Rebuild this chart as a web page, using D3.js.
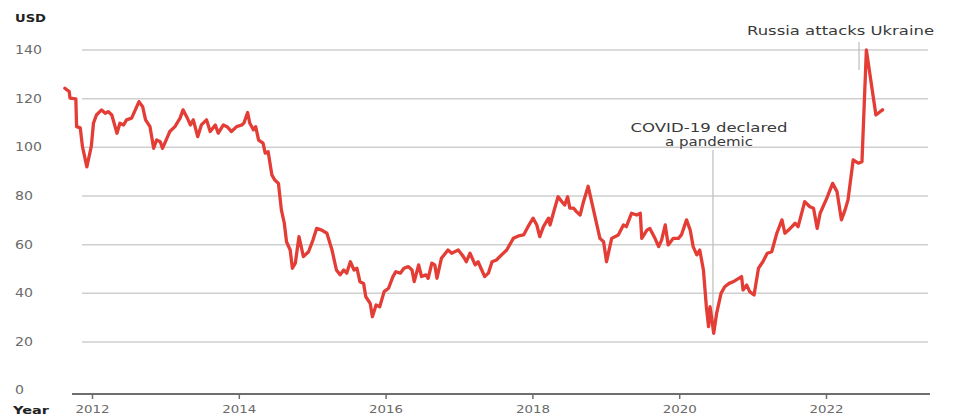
<!DOCTYPE html>
<html>
<head>
<meta charset="utf-8">
<script src="https://cdn.jsdelivr.net/npm/d3@7"></script>
<style>
  html, body { margin: 0; padding: 0; background: #fff; }
  svg { display: block; font-family: "DejaVu Sans", sans-serif; }
</style>
</head>
<body>
<svg id="chart" width="979" height="417"></svg>
<script>
// ---- data ----
const years = [
  2011.63,2011.69,2011.70,2011.78,2011.79,2011.84,2011.87,2011.93,2011.95,2011.99,
  2012.02,2012.06,2012.13,2012.18,2012.22,2012.27,2012.34,2012.38,2012.43,2012.47,
  2012.54,2012.64,2012.69,2012.73,2012.79,2012.84,2012.88,2012.93,2012.96,2013.02,
  2013.06,2013.13,2013.20,2013.24,2013.29,2013.34,2013.38,2013.44,2013.49,2013.56,
  2013.61,2013.68,2013.72,2013.79,2013.84,2013.90,2013.97,2014.04,2014.07,2014.12,
  2014.15,2014.20,2014.23,2014.27,2014.33,2014.36,2014.40,2014.45,2014.49,2014.54,
  2014.58,2014.62,2014.65,2014.70,2014.73,2014.77,2014.82,2014.88,2014.95,2015.01,
  2015.06,2015.13,2015.20,2015.27,2015.33,2015.38,2015.43,2015.47,2015.52,2015.57,
  2015.61,2015.65,2015.70,2015.73,2015.79,2015.82,2015.87,2015.92,2015.98,2016.04,
  2016.10,2016.14,2016.20,2016.25,2016.31,2016.36,2016.39,2016.45,2016.49,2016.55,
  2016.58,2016.63,2016.67,2016.70,2016.76,2016.85,2016.90,2016.99,2017.06,2017.10,
  2017.15,2017.22,2017.26,2017.31,2017.35,2017.40,2017.45,2017.51,2017.58,2017.65,
  2017.74,2017.81,2017.88,2017.94,2018.01,2018.06,2018.10,2018.15,2018.22,2018.24,
  2018.31,2018.35,2018.40,2018.44,2018.48,2018.51,2018.56,2018.60,2018.65,2018.69,
  2018.76,2018.92,2018.97,2019.01,2019.08,2019.17,2019.24,2019.28,2019.35,2019.42,
  2019.47,2019.49,2019.56,2019.60,2019.67,2019.72,2019.76,2019.81,2019.85,2019.92,
  2019.99,2020.03,2020.10,2020.15,2020.19,2020.24,2020.28,2020.33,2020.37,2020.40,
  2020.42,2020.44,2020.47,2020.51,2020.57,2020.62,2020.68,2020.75,2020.85,2020.87,
  2020.92,2020.96,2021.02,2021.08,2021.14,2021.20,2021.26,2021.33,2021.40,2021.44,
  2021.49,2021.58,2021.62,2021.71,2021.78,2021.83,2021.88,2021.92,2022.01,2022.09,
  2022.15,2022.21,2022.26,2022.30,2022.37,2022.44,2022.49,2022.55,2022.68,2022.74,
  2022.77
];
const prices = [
  124.3,122.9,120.2,119.9,108.5,108.0,100.3,92.0,94.8,100.3,
  109.9,113.3,115.4,114.0,114.7,113.3,105.8,109.9,109.2,111.3,
  112.0,118.8,116.7,111.3,108.5,99.6,103.0,102.3,99.6,103.7,
  106.5,108.5,112.0,115.4,112.6,109.2,111.3,104.4,109.2,111.3,
  106.5,109.2,105.8,109.2,108.5,106.5,108.5,109.2,110.0,114.3,
  109.9,107.2,108.5,103.0,101.7,97.6,98.2,88.7,86.6,85.2,
  74.3,68.8,61.2,57.8,50.3,52.4,63.3,55.1,57.1,61.9,
  66.7,66.0,64.7,57.8,49.6,47.6,49.6,48.3,53.0,49.6,
  50.3,44.8,44.1,38.6,35.9,30.4,35.2,34.5,40.7,42.1,
  46.9,48.9,48.3,50.3,51.0,49.6,44.8,51.7,46.9,47.6,
  46.2,52.4,51.7,46.2,54.4,57.8,56.5,57.8,55.1,53.0,
  56.5,51.7,53.0,49.6,46.9,48.3,53.0,53.7,55.8,57.8,
  62.6,63.6,64.0,67.4,70.9,68.1,63.3,67.4,70.9,68.1,
  75.6,79.7,77.7,76.3,79.7,75.0,75.0,73.6,72.2,77.0,
  84.0,62.6,61.2,53.0,62.6,64.0,68.1,67.4,72.9,72.2,
  72.9,62.6,66.0,66.7,62.6,59.2,61.9,68.1,59.9,62.6,
  62.6,64.0,70.2,66.0,59.2,55.8,57.8,49.6,34.5,26.3,
  34.5,30.4,23.6,31.8,40.0,42.7,44.1,45.0,46.9,41.4,
  43.4,40.7,39.3,50.3,53.0,56.5,57.1,64.7,70.2,64.7,
  66.0,68.8,67.4,77.7,75.6,75.0,66.7,72.9,79.0,85.2,
  81.8,70.2,74.3,78.4,94.8,93.5,94.1,140.0,113.3,114.7,
  115.4
];
const yTicks = [0, 20, 40, 60, 80, 100, 120, 140];
const xTicks = [2012, 2014, 2016, 2018, 2020, 2022];
const events = [
  { year: 2020.46, price: 23.6, lines: ["COVID-19 declared", "a pandemic"] },
  { year: 2022.45, price: 140, lines: ["Russia attacks Ukraine"] }
];
const yUnit = "USD";
const xUnit = "Year";

// ---- drawing ----
const svg = d3.select("#chart");
const x = d3.scaleLinear().domain([2012, 2022]).range([92, 826]);
const y = d3.scaleLinear().domain([0, 140]).range([390.7, 50]);

// wide geometric look: stretch DejaVu glyphs to the reference widths
const stretch = (sel, w) => sel.attr("textLength", w).attr("lengthAdjust", "spacingAndGlyphs");

// gridlines
svg.append("g").selectAll("line")
  .data(yTicks.filter(d => d > 0))
  .join("line")
  .attr("x1", 82).attr("x2", 928)
  .attr("y1", d => y(d)).attr("y2", d => y(d))
  .attr("stroke", "#cfcfcf").attr("stroke-width", 1.5);

// y tick labels
svg.append("g").selectAll("text")
  .data(yTicks)
  .join("text")
  .attr("x", 15)
  .attr("y", d => y(d) + (d === 0 ? -1 : 0))
  .attr("dy", "0.35em")
  .attr("font-size", 11.5)
  .attr("fill", "#6a6a6a")
  .text(d => d)
  .each(function(d) { stretch(d3.select(this), String(d).length * 9); });

stretch(svg.append("text")
  .attr("x", 15).attr("y", 18).attr("dy", "0.35em")
  .attr("font-size", 10).attr("font-weight", "bold")
  .attr("fill", "#222").text(yUnit), 31);

// x axis
const xAxis = d3.axisBottom(x).tickValues(xTicks).tickFormat(d3.format("d"))
  .tickSize(5).tickPadding(6);
const gx = svg.append("g").attr("transform", "translate(0,394)").call(xAxis);
gx.select(".domain").remove();
gx.insert("line", ":first-child")
  .attr("x1", 72).attr("x2", 930).attr("y1", 0).attr("y2", 0)
  .attr("stroke", "#6e6e6e").attr("stroke-width", 2);
gx.selectAll(".tick line").attr("stroke", "#6e6e6e").attr("stroke-width", 1.5);
gx.selectAll(".tick text")
  .attr("font-family", "DejaVu Sans, sans-serif")
  .attr("font-size", 11).attr("fill", "#6a6a6a")
  .each(function() { stretch(d3.select(this), 34); });

stretch(svg.append("text")
  .attr("x", 13).attr("y", 410).attr("dy", "0.35em")
  .attr("font-size", 10).attr("font-weight", "bold")
  .attr("fill", "#222").text(xUnit), 36);

// annotation lines
svg.append("line")
  .attr("x1", x(events[0].year)).attr("x2", x(events[0].year))
  .attr("y1", 150).attr("y2", y(events[0].price))
  .attr("stroke", "#bdbdbd").attr("stroke-width", 1.2);
svg.append("line")
  .attr("x1", x(events[1].year)).attr("x2", x(events[1].year))
  .attr("y1", 42).attr("y2", y(events[1].price) + 20)
  .attr("stroke", "#bdbdbd").attr("stroke-width", 1.2);

// data line
const pts = years.map((yr, i) => [yr, prices[i]]);
svg.append("path")
  .datum(pts)
  .attr("fill", "none")
  .attr("stroke", "#e33d36")
  .attr("stroke-width", 3.3)
  .attr("stroke-linejoin", "round")
  .attr("stroke-linecap", "round")
  .attr("d", d3.line().x(d => x(d[0])).y(d => y(d[1])));

// annotation texts
const covidWidths = [157, 88];
svg.append("g").selectAll("text")
  .data(events[0].lines)
  .join("text")
  .attr("x", 709)
  .attr("y", (d, i) => 128 + i * 13.5)
  .attr("dy", "0.35em")
  .attr("text-anchor", "middle")
  .attr("font-size", 11.5)
  .attr("fill", "#3a3a3a")
  .text(d => d)
  .each(function(d, i) { stretch(d3.select(this), covidWidths[i]); });

stretch(svg.append("text")
  .attr("x", 934).attr("y", 31).attr("dy", "0.35em")
  .attr("text-anchor", "end")
  .attr("font-size", 11.5)
  .attr("fill", "#3a3a3a")
  .text(events[1].lines[0]), 187);
</script>
</body>
</html>
